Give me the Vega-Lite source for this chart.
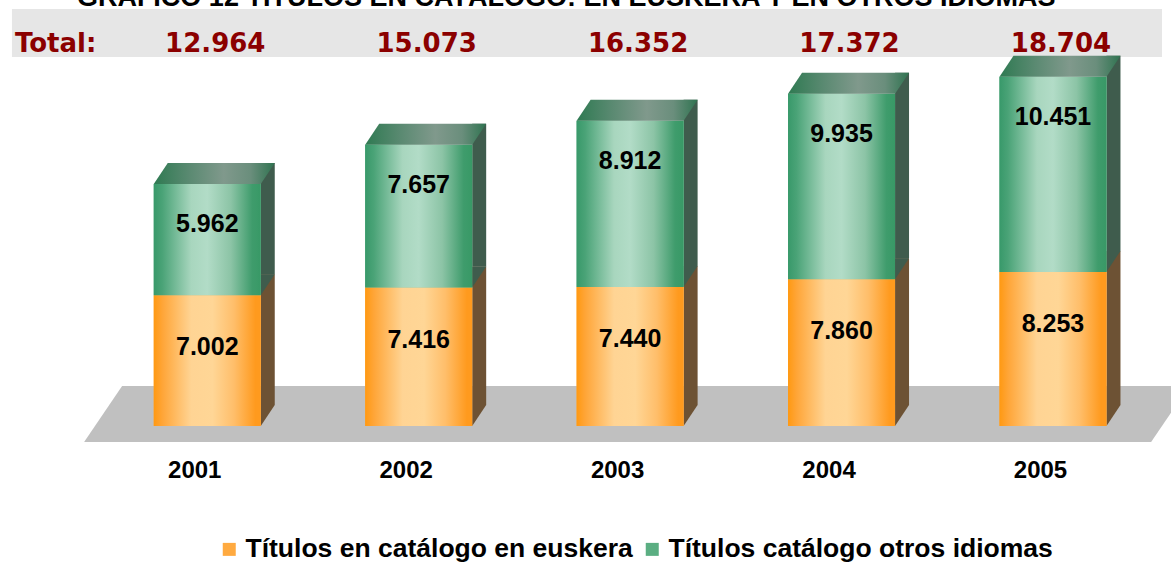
{
  "$schema": "https://vega.github.io/schema/vega-lite/v6.json",
  "width": 1171,
  "height": 436,
  "autosize": {"type": "none"},
  "padding": {"left": 0, "right": 0, "top": 9, "bottom": 118},
  "background": "white",
  "data": {
    "values": [
      {"year": 2001, "serie": "Títulos en catálogo en euskera", "value": 7002, "total": 12964},
      {"year": 2001, "serie": "Títulos catálogo otros idiomas", "value": 5962, "total": 12964},
      {"year": 2002, "serie": "Títulos en catálogo en euskera", "value": 7416, "total": 15073},
      {"year": 2002, "serie": "Títulos catálogo otros idiomas", "value": 7657, "total": 15073},
      {"year": 2003, "serie": "Títulos en catálogo en euskera", "value": 7440, "total": 16352},
      {"year": 2003, "serie": "Títulos catálogo otros idiomas", "value": 8912, "total": 16352},
      {"year": 2004, "serie": "Títulos en catálogo en euskera", "value": 7860, "total": 17372},
      {"year": 2004, "serie": "Títulos catálogo otros idiomas", "value": 9935, "total": 17372},
      {"year": 2005, "serie": "Títulos en catálogo en euskera", "value": 8253, "total": 18704},
      {"year": 2005, "serie": "Títulos catálogo otros idiomas", "value": 10451, "total": 18704}
    ]
  },
  "transform": [
    {"stack": "value", "groupby": ["year"], "sort": [{"field": "serie", "order": "descending"}], "as": ["v0", "v1"]}
  ],
  "layer": [
    {
      "transform": [{"aggregate": [{"op": "count", "as": "n"}]}],
      "mark": {"type": "rect", "color": "#E6E6E6", "strokeWidth": 0},
      "encoding": {
        "x": {
          "datum": 2000.0762, "type": "quantitative",
          "scale": {"domain": [2000.0434, 2005.5346], "nice": false, "zero": false},
          "axis": {"values": [2001, 2002, 2003, 2004, 2005], "format": "d", "labelOffset": -13, "labelFont": "Liberation Sans", "labelFontWeight": "bold", "labelFontSize": 24, "labelColor": "#000000", "labelPadding": 13, "domain": false, "ticks": false, "tickSize": 0, "grid": false, "title": null}
        },
        "x2": {"datum": 2005.5158},
        "y": {"datum": 19768, "type": "quantitative", "scale": {"domain": [-1020, 22340], "nice": false, "zero": false}, "axis": null},
        "y2": {"datum": 22340}
      }
    },
    {
      "transform": [{"aggregate": [{"op": "count", "as": "n"}]}],
      "mark": {"type": "text", "font": "Liberation Sans", "fontWeight": "bold", "fontSize": 27, "color": "#000000", "baseline": "alphabetic", "align": "center", "text": "GRÁFICO 12 TÍTULOS EN CATÁLOGO: EN EUSKERA Y EN OTROS IDIOMAS"},
      "encoding": {
        "x": {"datum": 2002.6976, "type": "quantitative"},
        "y": {"datum": 22501, "type": "quantitative"}
      }
    },
    {
      "transform": [{"aggregate": [{"op": "count", "as": "n"}]}],
      "mark": {"type": "point", "shape": "M-5.46,0.16 L5.21,0.16 L5.59,-0.4 L-5.08,-0.4 Z", "size": 40000, "filled": true, "opacity": 1, "fill": "#C0C0C0", "strokeWidth": 0, "clip": true},
      "encoding": {
        "x": {"datum": 2003, "type": "quantitative"},
        "y": {"datum": 0, "type": "quantitative"}
      }
    },
    {
      "transform": [{"filter": "datum.serie == 'Títulos en catálogo en euskera'"}],
      "mark": {"type": "bar", "size": 14, "xOffset": 60.5, "yOffset": -21, "y2Offset": -21, "color": "#6D5234", "cornerRadius": 0},
      "encoding": {
        "x": {"field": "year", "type": "quantitative"},
        "y": {"field": "v1", "type": "quantitative"},
        "y2": {"field": "v0"}
      }
    },
    {
      "transform": [{"filter": "datum.serie == 'Títulos catálogo otros idiomas'"}],
      "mark": {"type": "bar", "size": 14, "xOffset": 60.5, "yOffset": -21, "y2Offset": -21, "color": "#3F5C4D", "cornerRadius": 0},
      "encoding": {
        "x": {"field": "year", "type": "quantitative"},
        "y": {"field": "v1", "type": "quantitative"},
        "y2": {"field": "v0"}
      }
    },
    {
      "transform": [{"filter": "datum.serie == 'Títulos en catálogo en euskera'"}],
      "mark": {"type": "point", "shape": "M0.535,-0.21 L0.535,0 L0.675,-0.21 Z", "size": 40000, "filled": true, "opacity": 1, "fill": "#6D5234", "strokeWidth": 0},
      "encoding": {
        "x": {"field": "year", "type": "quantitative"},
        "y": {"field": "v0", "type": "quantitative"}
      }
    },
    {
      "transform": [{"filter": "datum.serie == 'Títulos catálogo otros idiomas'"}],
      "mark": {"type": "point", "shape": "M0.535,-0.21 L0.535,0 L0.675,-0.21 Z", "size": 40000, "filled": true, "opacity": 1, "fill": "#3F5C4D", "strokeWidth": 0},
      "encoding": {
        "x": {"field": "year", "type": "quantitative"},
        "y": {"field": "v0", "type": "quantitative"}
      }
    },
    {
      "mark": {"type": "bar", "size": 107, "cornerRadius": 0, "strokeWidth": 0},
      "encoding": {
        "x": {"field": "year", "type": "quantitative"},
        "y": {"field": "v1", "type": "quantitative"},
        "y2": {"field": "v0"},
        "color": {
          "field": "serie", "type": "nominal",
          "scale": {
            "domain": ["Títulos en catálogo en euskera", "Títulos catálogo otros idiomas"],
            "range": ["#FFAA40", "#5BAE82"]
          },
          "legend": {
            "orient": "none", "legendX": 216, "legendY": 527, "direction": "horizontal",
            "title": null, "symbolType": "square", "symbolSize": 169, "symbolStrokeWidth": 0,
            "labelFont": "Liberation Sans", "labelFontWeight": "bold", "labelFontSize": 26.5, "labelColor": "#000000",
            "labelOffset": 3, "columnPadding": 6, "labelLimit": 600
          }
        }
      }
    },
    {
      "transform": [{"filter": "datum.serie == 'Títulos en catálogo en euskera'"}],
      "mark": {"type": "bar", "size": 107, "cornerRadius": 0, "strokeWidth": 0,
        "fill": {"gradient": "linear", "x1": 0, "y1": 0, "x2": 1, "y2": 0, "stops": [
          {"offset": 0, "color": "#FF9912"},
          {"offset": 0.08, "color": "#FFA537"},
          {"offset": 0.35, "color": "#FFD494"},
          {"offset": 0.55, "color": "#FFD696"},
          {"offset": 0.75, "color": "#FFBE6A"},
          {"offset": 0.95, "color": "#FF9A1E"},
          {"offset": 1, "color": "#FF9A1E"}
        ]}
      },
      "encoding": {
        "x": {"field": "year", "type": "quantitative"},
        "y": {"field": "v1", "type": "quantitative"},
        "y2": {"field": "v0"}
      }
    },
    {
      "transform": [{"filter": "datum.serie == 'Títulos catálogo otros idiomas'"}],
      "mark": {"type": "bar", "size": 107, "cornerRadius": 0, "strokeWidth": 0,
        "fill": {"gradient": "linear", "x1": 0, "y1": 0, "x2": 1, "y2": 0, "stops": [
          {"offset": 0, "color": "#38996A"},
          {"offset": 0.08, "color": "#4AA377"},
          {"offset": 0.35, "color": "#A8D6BE"},
          {"offset": 0.5, "color": "#B2DCC7"},
          {"offset": 0.72, "color": "#8CC4A6"},
          {"offset": 0.92, "color": "#3F9C6C"},
          {"offset": 1, "color": "#389966"}
        ]}
      },
      "encoding": {
        "x": {"field": "year", "type": "quantitative"},
        "y": {"field": "v1", "type": "quantitative"},
        "y2": {"field": "v0"}
      }
    },
    {
      "transform": [{"filter": "datum.serie == 'Títulos catálogo otros idiomas'"}],
      "mark": {"type": "point", "shape": "M-0.535,0 L0.535,0 L0.675,-0.21 L-0.395,-0.21 Z", "size": 40000, "filled": true, "opacity": 1, "strokeWidth": 0,
        "fill": {"gradient": "linear", "x1": 0, "y1": 0, "x2": 1, "y2": 0, "stops": [
          {"offset": 0, "color": "#2F7A52"},
          {"offset": 0.3, "color": "#5B8A72"},
          {"offset": 0.58, "color": "#80998C"},
          {"offset": 0.8, "color": "#6A8E7C"},
          {"offset": 1, "color": "#2F7350"}
        ]}
      },
      "encoding": {
        "x": {"field": "year", "type": "quantitative"},
        "y": {"field": "v1", "type": "quantitative"}
      }
    },
    {
      "transform": [{"filter": "datum.serie == 'Títulos en catálogo en euskera'"}],
      "mark": {"type": "text", "font": "Liberation Sans", "fontWeight": "bold", "fontSize": 25, "color": "#000000", "baseline": "middle", "align": "center", "dy": 52},
      "encoding": {
        "x": {"field": "year", "type": "quantitative"},
        "y": {"field": "v1", "type": "quantitative"},
        "text": {"field": "value", "type": "quantitative", "format": ",d"}
      }
    },
    {
      "transform": [{"filter": "datum.serie == 'Títulos catálogo otros idiomas'"}],
      "mark": {"type": "text", "font": "Liberation Sans", "fontWeight": "bold", "fontSize": 25, "color": "#000000", "baseline": "middle", "align": "center", "dy": 40},
      "encoding": {
        "x": {"field": "year", "type": "quantitative"},
        "y": {"field": "v1", "type": "quantitative"},
        "text": {"field": "value", "type": "quantitative", "format": ",d"}
      }
    },
    {
      "transform": [{"filter": "datum.serie == 'Títulos catálogo otros idiomas'"}],
      "mark": {"type": "text", "font": "DejaVu Sans", "fontWeight": "bold", "fontSize": 26, "color": "#8B0000", "baseline": "alphabetic", "align": "center", "dx": 8},
      "encoding": {
        "x": {"field": "year", "type": "quantitative"},
        "y": {"datum": 20036, "type": "quantitative"},
        "text": {"field": "total", "type": "quantitative", "format": ",d"}
      }
    },
    {
      "transform": [{"aggregate": [{"op": "count", "as": "n"}]}],
      "mark": {"type": "text", "font": "DejaVu Sans", "fontWeight": "bold", "fontSize": 26, "color": "#8B0000", "baseline": "alphabetic", "align": "left", "text": "Total:"},
      "encoding": {
        "x": {"datum": 2000.0903, "type": "quantitative"},
        "y": {"datum": 20036, "type": "quantitative"}
      }
    }
  ],
  "config": {
    "view": {"stroke": null},
    "locale": {"number": {"decimal": ",", "thousands": ".", "grouping": [3], "currency": ["", " €"]}}
  }
}
